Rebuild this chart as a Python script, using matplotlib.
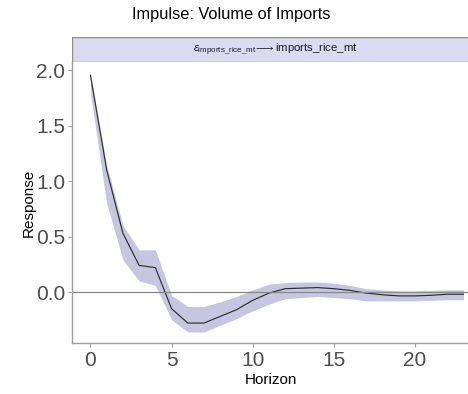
import matplotlib
matplotlib.use("Agg")
import matplotlib.pyplot as plt
from matplotlib.patches import Rectangle

plt.rcParams["font.family"] = ["Liberation Sans", "DejaVu Sans"]
plt.rcParams["mathtext.fontset"] = "custom"
plt.rcParams["mathtext.rm"] = "Liberation Sans"
plt.rcParams["mathtext.it"] = "Liberation Sans:italic"

#DATA
horizon = list(range(24))
response = [1.955, 1.10, 0.53, 0.24, 0.22, -0.15, -0.28, -0.28, -0.22, -0.16,
            -0.075, -0.01, 0.03, 0.035, 0.04, 0.03, 0.015, -0.01, -0.025, -0.035,
            -0.035, -0.03, -0.02, -0.02]
upper = [1.96, 1.14, 0.60, 0.38, 0.38, -0.03, -0.13, -0.13, -0.09, -0.04,
         0.02, 0.07, 0.085, 0.09, 0.09, 0.08, 0.06, 0.03, 0.02, 0.01,
         0.01, 0.015, 0.02, 0.02]
lower = [1.79, 0.80, 0.29, 0.10, 0.06, -0.25, -0.36, -0.36, -0.30, -0.24,
         -0.17, -0.11, -0.06, -0.05, -0.04, -0.05, -0.06, -0.08, -0.08, -0.08,
         -0.08, -0.075, -0.07, -0.07]

W, H = 468, 394
fig = plt.figure(figsize=(W / 100, H / 100), dpi=100)

def px(l, t, r, b):
    return [l / W, 1 - b / H, (r - l) / W, (b - t) / H]

ax = fig.add_axes(px(72, 62, 470, 343))

ax.fill_between(horizon, lower, upper, color="#b8b8d9", alpha=0.8, linewidth=0)
ax.plot(horizon, response, color="#2e2e2e", linewidth=0.85)
ax.axhline(0, color="#888888", linewidth=0.9)

ax.set_xlim(-1.14, 23.4)
ax.set_ylim(-0.46, 2.075)
ax.set_xticks([0, 5, 10, 15, 20])
ax.set_yticks([0.0, 0.5, 1.0, 1.5, 2.0])
ax.set_yticklabels(["0.0", "0.5", "1.0", "1.5", "2.0"])

for side in ["top", "right"]:
    ax.spines[side].set_visible(False)
for side in ["left", "bottom"]:
    ax.spines[side].set_color("#a0a0a0")
    ax.spines[side].set_linewidth(1.0)

ax.tick_params(axis="both", labelsize=15, colors="#a0a0a0", labelcolor="#4d4d4d",
               length=3, width=0.8)
ax.tick_params(axis="x", pad=3)
ax.tick_params(axis="y", pad=2)
ax.set_xlabel("Horizon", fontsize=11, labelpad=2)
ax.set_ylabel("Response", fontsize=11, labelpad=0)

#STRIP
strip = fig.add_axes(px(72, 37, 470, 62))
strip.add_patch(Rectangle((0, 0), 1, 1, transform=strip.transAxes,
                          facecolor="#dcdaf0", edgecolor="#8c8c8c", linewidth=1.0))
strip.set_axis_off()
fig.text(275.5 / W, 1 - 50 / H,
         r"$\varepsilon_{\mathrm{imports\_rice\_mt}}\!\longrightarrow$imports_rice_mt",
         fontsize=8.2, ha="center", va="center", color="#1a1a1a")

fig.text(231 / W, 1 - 14 / H, "Impulse: Volume of Imports",
         fontsize=11.8, ha="center", va="center")

fig.savefig("out.png", dpi=100)
